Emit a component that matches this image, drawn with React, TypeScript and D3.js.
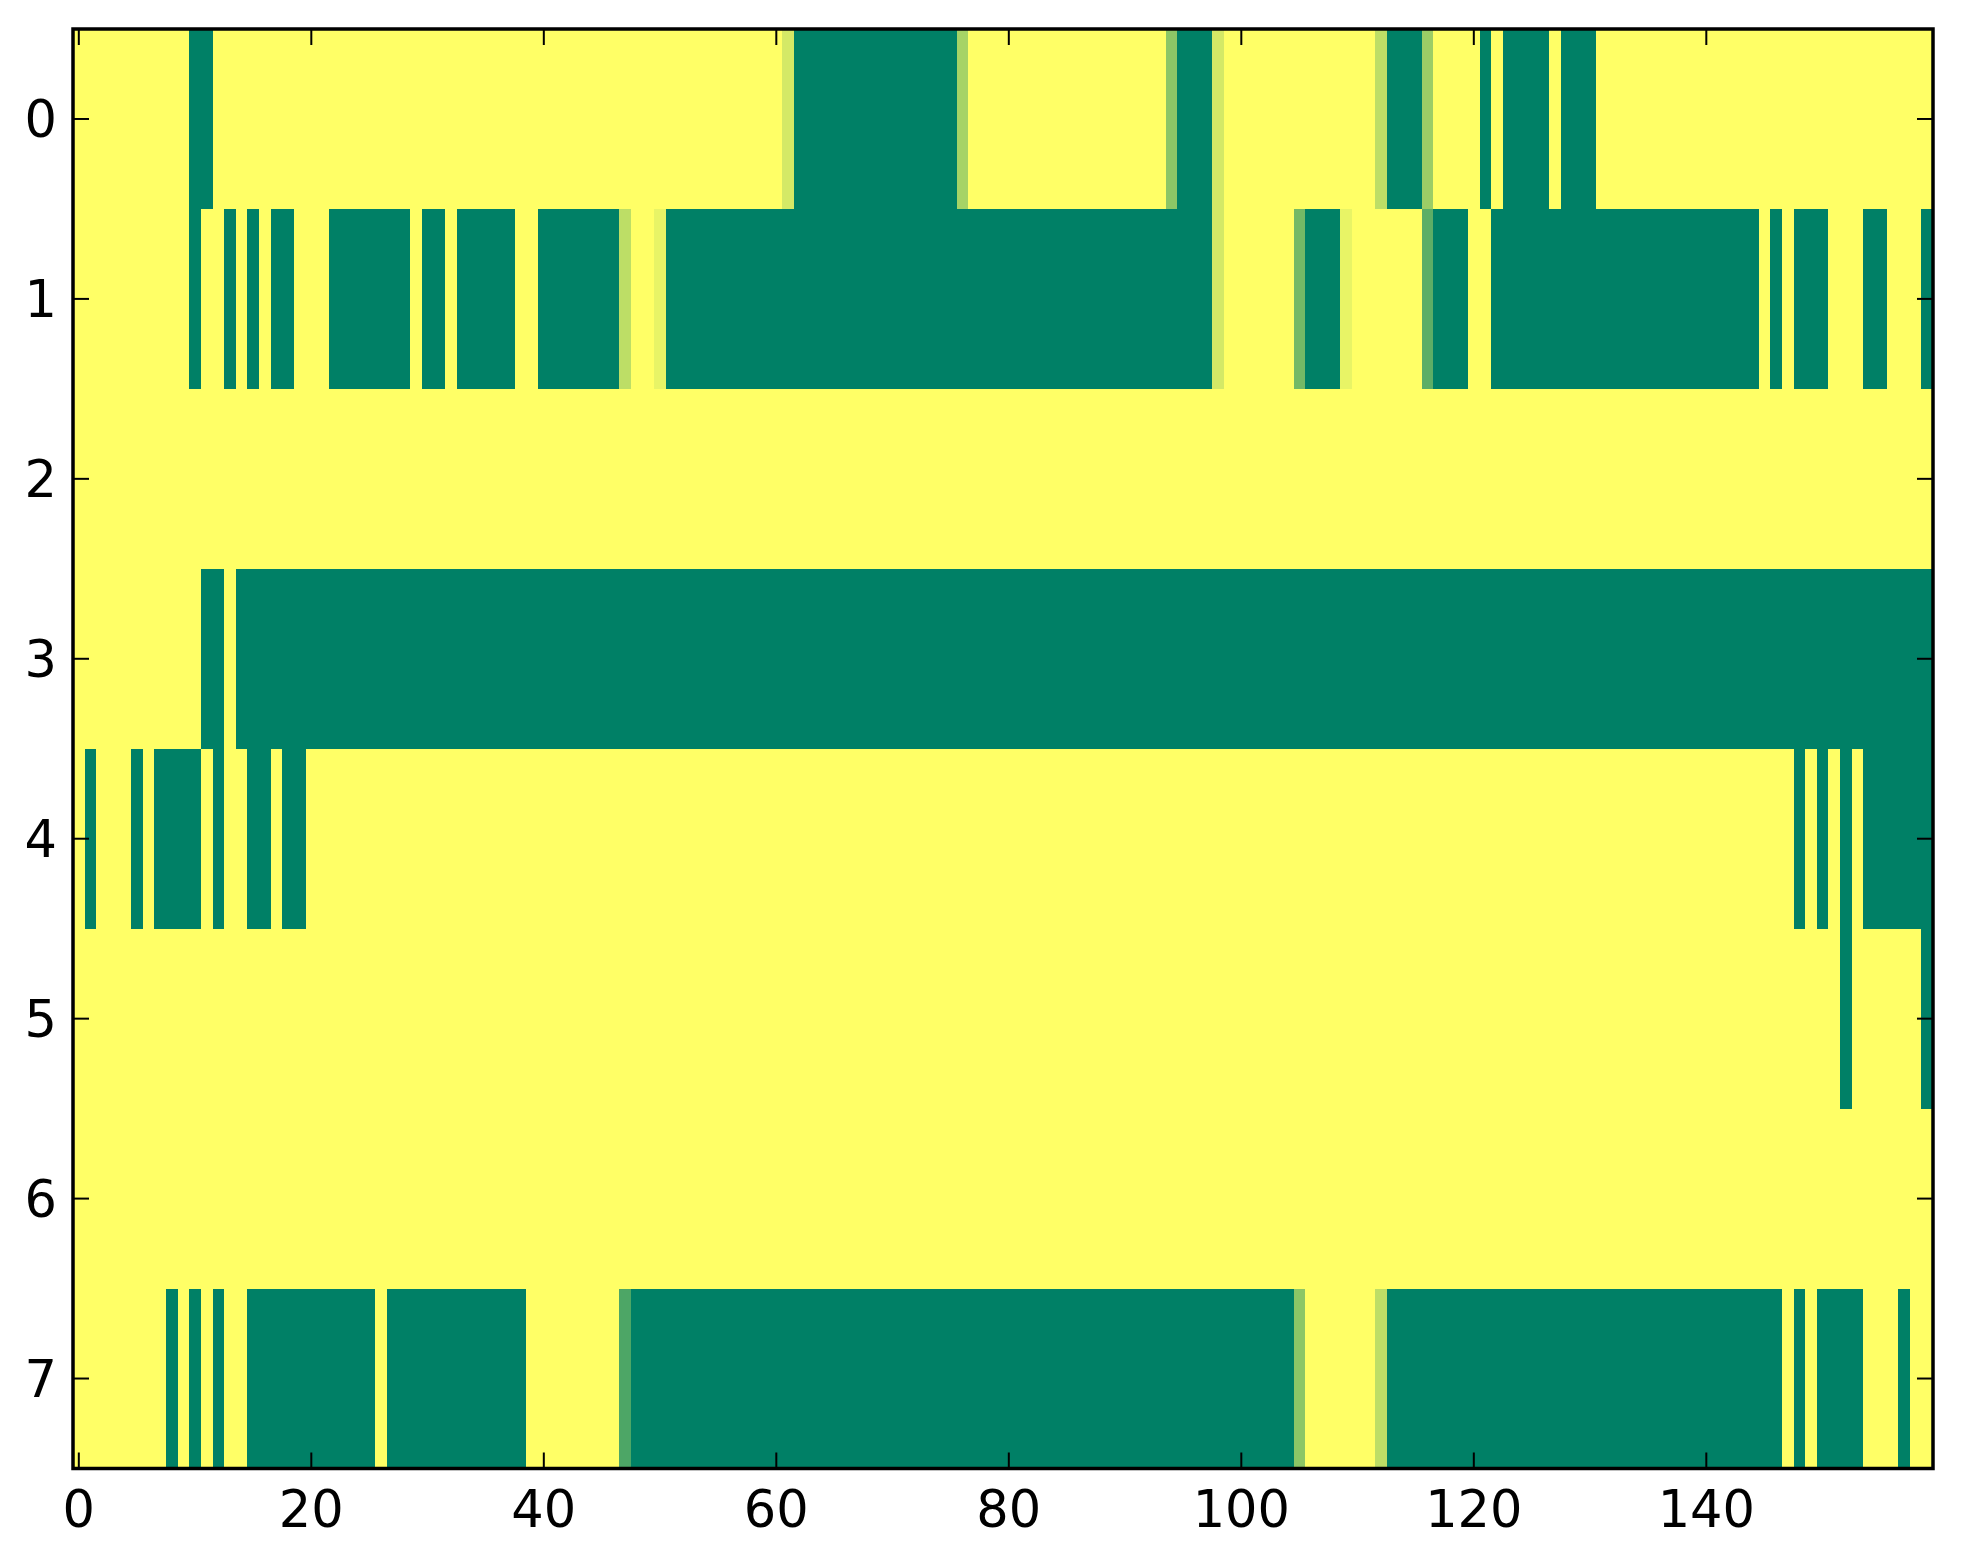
import React from "react";
import * as d3 from "d3";

// ---- data ----
const NROWS = 8;
const NCOLS = 160;
const xTicks = [0, 20, 40, 60, 80, 100, 120, 140];
const yTicks = [0, 1, 2, 3, 4, 5, 6, 7];

// green (value 0) column runs, inclusive, per row
const row0Green = [[10, 11], [62, 75], [95, 97], [113, 115], [121, 121], [123, 126], [128, 130]];
const row1Green = [[10, 10], [13, 13], [15, 15], [17, 18], [22, 28], [30, 31], [33, 37], [40, 46], [51, 97], [106, 108], [117, 119], [122, 144], [146, 146], [148, 150], [154, 155], [159, 159]];
const row2Green: number[][] = [];
const row3Green = [[11, 12], [14, 159]];
const row4Green = [[1, 1], [5, 5], [7, 10], [12, 12], [15, 16], [18, 19], [148, 148], [150, 150], [152, 152], [154, 159]];
const row5Green = [[152, 152], [159, 159]];
const row6Green: number[][] = [];
const row7Green = [[8, 8], [10, 10], [12, 12], [15, 25], [27, 38], [48, 104], [113, 146], [148, 148], [150, 153], [157, 157]];

// cells with intermediate values: [row, col, value]
const partialCells = [
  [0, 61, 0.83], [0, 76, 0.65], [0, 94, 0.55], [0, 98, 0.83], [0, 112, 0.74], [0, 116, 0.61],
  [1, 47, 0.74], [1, 50, 0.91], [1, 98, 0.83], [1, 105, 0.45], [1, 109, 0.91], [1, 116, 0.36],
  [7, 47, 0.3], [7, 105, 0.55], [7, 112, 0.74],
];

const greenRuns = [row0Green, row1Green, row2Green, row3Green, row4Green, row5Green, row6Green, row7Green];

function buildGrid(): number[][] {
  const grid: number[][] = [];
  for (let r = 0; r < NROWS; r++) {
    const row = new Array(NCOLS).fill(1);
    for (const [a, b] of greenRuns[r]) for (let c = a; c <= b; c++) row[c] = 0;
    grid.push(row);
  }
  for (const [r, c, v] of partialCells) grid[r][c] = v;
  return grid;
}

export default function App() {
  const W = 1963, H = 1564;
  const x = d3.scaleLinear().domain([-0.5, NCOLS - 0.5]).range([73, 1933]);
  const y = d3.scaleLinear().domain([-0.5, NROWS - 0.5]).range([29, 1468.5]);
  const color = d3.scaleLinear<string>().domain([0, 1]).range(["#008066", "#ffff66"]).interpolate(d3.interpolateRgb);
  const grid = buildGrid();
  const cw = x(1) - x(0);
  const ch = y(1) - y(0);
  const tickLen = 16;
  const font = "'DejaVu Sans', sans-serif";
  const fs = 51;
  const [x0, x1] = x.range();
  const [y0, y1] = y.range();

  return (
    <svg width={W} height={H} style={{ position: "absolute", left: 0, top: 0, background: "#fff" }}>
      <rect x={0} y={0} width={W} height={H} fill="#fff" />
      <g shapeRendering="crispEdges">
        {grid.map((row, r) =>
          row.map((v, c) => (
            <rect key={`${r}-${c}`} x={x(c - 0.5)} y={y(r - 0.5)} width={cw + 0.5} height={ch + 0.5} fill={color(v)} />
          ))
        )}
      </g>
      {/* ticks */}
      <g stroke="#000" strokeWidth={2}>
        {xTicks.map((t) => (
          <g key={`xt${t}`}>
            <line x1={x(t)} x2={x(t)} y1={y1} y2={y1 - tickLen} />
            <line x1={x(t)} x2={x(t)} y1={y0} y2={y0 + tickLen} />
          </g>
        ))}
        {yTicks.map((t) => (
          <g key={`yt${t}`}>
            <line x1={x0} x2={x0 + tickLen} y1={y(t)} y2={y(t)} />
            <line x1={x1} x2={x1 - tickLen} y1={y(t)} y2={y(t)} />
          </g>
        ))}
      </g>
      {/* spines */}
      <rect x={x0} y={y0} width={x1 - x0} height={y1 - y0} fill="none" stroke="#000" strokeWidth={3.5} />
      {/* labels */}
      <g fontFamily={font} fontSize={fs} fill="#000">
        {xTicks.map((t) => (
          <text key={`xl${t}`} x={x(t)} y={1527} textAnchor="middle">{t}</text>
        ))}
        {yTicks.map((t) => (
          <text key={`yl${t}`} x={57} y={y(t) + 18} textAnchor="end">{t}</text>
        ))}
      </g>
    </svg>
  );
}
